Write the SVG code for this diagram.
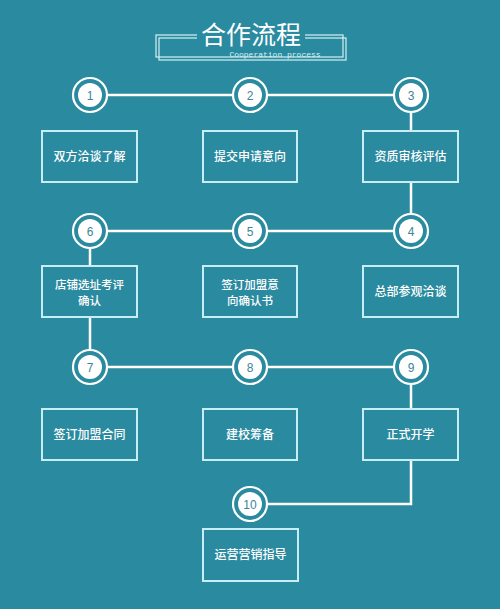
<svg xmlns="http://www.w3.org/2000/svg" width="500" height="609" viewBox="0 0 500 609">
<style>
.bg{fill:#2a8a9f}
.ln{stroke:#ffffff;stroke-width:2.5;fill:none}
.box{fill:#2a8a9f;stroke:#c6eef4;stroke-width:2}
.ring{fill:#2a8a9f;stroke:#ffffff;stroke-width:2.2}
.dot{fill:#ffffff}
.num{font-family:"Liberation Sans",Arial,sans-serif;font-size:12px;fill:#3a8598;text-anchor:middle}
.lbl{font-family:"Noto Sans CJK SC","Noto Sans",sans-serif;font-size:12px;fill:#ffffff;text-anchor:middle;font-weight:500}
.lbl2{font-family:"Noto Sans CJK SC","Noto Sans",sans-serif;font-size:11.5px;fill:#ffffff;text-anchor:middle;font-weight:500}
.frame{fill:none;stroke:#d6f2f6;stroke-width:1.2}
</style>
<rect class="bg" x="0" y="0" width="500" height="609"/>
<g id="title">
<rect class="frame" x="156" y="35" width="187" height="22"/>
<rect class="frame" x="159" y="38" width="187" height="22"/>
<rect class="bg" x="197" y="25" width="108" height="16"/>
<text x="251" y="43.5" font-family="Noto Sans CJK SC,serif" font-size="25" fill="#ffffff" text-anchor="middle">合作流程</text>
<text x="275" y="57" font-family="Liberation Mono,monospace" font-size="8" fill="#d6f2f6" text-anchor="middle">Cooperation process</text>
</g>
<g id="connectors">
<polyline class="ln" points="90,95 411,95 411,231 90,231 90,367 411,367 411,504 250,504"/>
</g>
<g id="n1"><rect class="box" x="42" y="131" width="95" height="51"/><text class="lbl" x="89.5" y="161">双方洽谈了解</text></g>
<g id="n2"><rect class="box" x="203" y="131" width="94" height="51"/><text class="lbl" x="250" y="161">提交申请意向</text></g>
<g id="n3"><rect class="box" x="363" y="131" width="95" height="51"/><text class="lbl" x="410.5" y="161">资质审核评估</text></g>
<g id="n4"><rect class="box" x="363" y="266" width="95" height="51"/><text class="lbl" x="410.5" y="296">总部参观洽谈</text></g>
<g id="n5"><rect class="box" x="203" y="266" width="94" height="51"/><text class="lbl2" x="250" y="289">签订加盟意</text><text class="lbl2" x="250" y="304.5">向确认书</text></g>
<g id="n6"><rect class="box" x="42" y="266" width="95" height="51"/><text class="lbl2" x="89.5" y="289">店铺选址考评</text><text class="lbl2" x="89.5" y="304.5">确认</text></g>
<g id="n7"><rect class="box" x="42" y="409" width="95" height="51"/><text class="lbl" x="89.5" y="439">签订加盟合同</text></g>
<g id="n8"><rect class="box" x="203" y="409" width="94" height="51"/><text class="lbl" x="250" y="439">建校筹备</text></g>
<g id="n9"><rect class="box" x="363" y="409" width="95" height="51"/><text class="lbl" x="410.5" y="439">正式开学</text></g>
<g id="n10"><rect class="box" x="203" y="529" width="95" height="52"/><text class="lbl" x="250.5" y="559">运营营销指导</text></g>
<g id="c1"><circle class="ring" cx="90" cy="95" r="17"/><circle class="dot" cx="90" cy="95" r="12"/><text class="num" x="90" y="99.5">1</text></g>
<g id="c2"><circle class="ring" cx="250" cy="95" r="17"/><circle class="dot" cx="250" cy="95" r="12"/><text class="num" x="250" y="99.5">2</text></g>
<g id="c3"><circle class="ring" cx="411" cy="95" r="17"/><circle class="dot" cx="411" cy="95" r="12"/><text class="num" x="411" y="99.5">3</text></g>
<g id="c4"><circle class="ring" cx="411" cy="231" r="17"/><circle class="dot" cx="411" cy="231" r="12"/><text class="num" x="411" y="235.5">4</text></g>
<g id="c5"><circle class="ring" cx="250" cy="231" r="17"/><circle class="dot" cx="250" cy="231" r="12"/><text class="num" x="250" y="235.5">5</text></g>
<g id="c6"><circle class="ring" cx="90" cy="231" r="17"/><circle class="dot" cx="90" cy="231" r="12"/><text class="num" x="90" y="235.5">6</text></g>
<g id="c7"><circle class="ring" cx="90" cy="367" r="17"/><circle class="dot" cx="90" cy="367" r="12"/><text class="num" x="90" y="371.5">7</text></g>
<g id="c8"><circle class="ring" cx="250" cy="367" r="17"/><circle class="dot" cx="250" cy="367" r="12"/><text class="num" x="250" y="371.5">8</text></g>
<g id="c9"><circle class="ring" cx="411" cy="367" r="17"/><circle class="dot" cx="411" cy="367" r="12"/><text class="num" x="411" y="371.5">9</text></g>
<g id="c10"><circle class="ring" cx="250" cy="504" r="17"/><circle class="dot" cx="250" cy="504" r="12"/><text class="num" x="250" y="508.5">10</text></g>
</svg>
